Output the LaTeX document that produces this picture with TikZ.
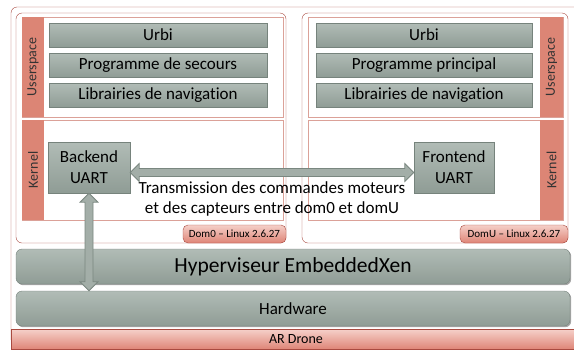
\documentclass[tikz,border=0pt]{standalone}
\usepackage{fontspec}
\setmainfont{Carlito}[Ligatures=NoCommon]
\usepackage{xcolor}
\usetikzlibrary{calc,shadows}

\definecolor{grisH}{HTML}{B1BCB6}
\definecolor{grisB}{HTML}{8F9C95}
\definecolor{grisBord}{HTML}{76837C}
\definecolor{rougeBande}{HTML}{DC8575}
\definecolor{rougePanneau}{HTML}{DBA198}
\definecolor{rougeCadre}{HTML}{A94A40}
\definecolor{ongletH}{HTML}{F5CFC8}
\definecolor{ongletB}{HTML}{DE8476}
\definecolor{flecheFond}{HTML}{A3AEA8}
\definecolor{flecheBord}{HTML}{7A8780}

\tikzset{
  cadre/.style={rectangle, draw=rougeCadre, fill=white, rounded corners=6pt},
  panneau/.style={rectangle, draw=rougePanneau, fill=white},
  bande/.style={rectangle, fill=rougeBande, inner sep=0pt,
                font=\fontsize{14}{16}\selectfont, text=black!80},
  grisbox/.style={rectangle, draw=grisBord, top color=grisH, bottom color=grisB,
                  inner sep=0pt, align=center, font=\fontsize{17}{21}\selectfont,
                  drop shadow={shadow xshift=1.2pt, shadow yshift=-1.2pt,
                               opacity=.35, fill=black}},
  couche/.style={grisbox, rounded corners=6pt},
  onglet/.style={rectangle, draw=rougeCadre, top color=ongletH, bottom color=ongletB,
                 rounded corners=5pt, inner sep=0pt, font=\fontsize{11}{13}\selectfont},
  fleche/.style={draw=flecheBord, fill=flecheFond, line width=0.8pt, line join=miter}
}

% grosse fleche a deux pointes entre deux points
\newcommand{\flechedouble}[2]{%
  \path (#1) coordinate (fdA) (#2) coordinate (fdB);
  \coordinate (fdA1) at ($(fdA)!9pt!(fdB)$);
  \coordinate (fdB1) at ($(fdB)!9pt!(fdA)$);
  \draw[fleche] (fdA) -- ($(fdA1)!9pt!90:(fdB)$) -- ($(fdA1)!4pt!90:(fdB)$)
    -- ($(fdB1)!4pt!-90:(fdA)$) -- ($(fdB1)!9pt!-90:(fdA)$) -- (fdB)
    -- ($(fdB1)!9pt!90:(fdA)$) -- ($(fdB1)!4pt!90:(fdA)$)
    -- ($(fdA1)!4pt!-90:(fdB)$) -- ($(fdA1)!9pt!-90:(fdB)$) -- cycle;}

\begin{document}
\begin{tikzpicture}[x=1pt, y=-1pt]
  \useasboundingbox (0,0) rectangle (574,349);
  \clip (0,0) rectangle (574,349);

  % cadre general
  \draw[rougeCadre, rounded corners=6pt] (11,7) rectangle (590,345);

  % domaines
  \node[cadre, minimum width=270pt, minimum height=230pt] (dom0) at (151,128) {};
  \node[cadre, minimum width=266pt, minimum height=230pt] (domU) at (435,128) {};

  % dom0 : userspace et kernel
  \node[panneau, minimum width=261pt, minimum height=100pt] (userA) at (152.5,67) {};
  \node[bande, minimum width=22pt, minimum height=100pt] (userAb) at (33,67) {};
  \node[bande, rotate=90] at (userAb) {Userspace};
  \node[panneau, minimum width=261pt, minimum height=100pt] (kernA) at (152.5,170) {};
  \node[bande, minimum width=22pt, minimum height=100pt] (kernAb) at (33,170) {};
  \node[bande, rotate=90] at (kernAb) {Kernel};

  % domU : userspace et kernel
  \node[panneau, minimum width=255pt, minimum height=100pt] (userB) at (435.5,67) {};
  \node[bande, minimum width=23pt, minimum height=100pt] (userBb) at (551.5,67) {};
  \node[bande, rotate=90] at (userBb) {Userspace};
  \node[panneau, minimum width=255pt, minimum height=100pt] (kernB) at (435.5,170) {};
  \node[bande, minimum width=23pt, minimum height=100pt] (kernBb) at (551.5,170) {};
  \node[bande, rotate=90] at (kernBb) {Kernel};

  % applications
  \node[grisbox, minimum width=218pt, minimum height=24pt] (urbiA) at (158,35) {Urbi};
  \node[grisbox, minimum width=218pt, minimum height=24pt] (secours) at (158,65) {Programme de secours};
  \node[grisbox, minimum width=218pt, minimum height=24pt] (navA) at (158,95) {Librairies de navigation};
  \node[grisbox, minimum width=216pt, minimum height=24pt] (urbiB) at (424,35) {Urbi};
  \node[grisbox, minimum width=216pt, minimum height=24pt] (principal) at (424,65) {Programme principal};
  \node[grisbox, minimum width=216pt, minimum height=24pt] (navB) at (424,95) {Librairies de navigation};

  % pilotes
  \node[grisbox, minimum width=82pt, minimum height=51pt] (backend) at (89,167.5) {Backend\\UART};
  \node[grisbox, minimum width=80pt, minimum height=51pt] (frontend) at (454,167.5) {Frontend\\UART};
  \node[align=center, font=\fontsize{17}{19.5}\selectfont] (transm) at (272,199)
    {Transmission des commandes moteurs\\et des capteurs entre dom0 et domU};

  % onglets
  \node[onglet, minimum width=103pt, minimum height=18pt] (tab0) at (234.5,234) {Dom0 -- Linux 2.6.27};
  \node[onglet, minimum width=108pt, minimum height=18pt] (tabU) at (514,234) {DomU -- Linux 2.6.27};

  % couches basses
  \node[couche, minimum width=554pt, minimum height=35pt, font=\fontsize{21.5}{24}\selectfont]
    (hyper) at (293,266.5) {Hyperviseur EmbeddedXen};
  \node[couche, minimum width=554pt, minimum height=35pt] (hardware) at (293,308.5) {Hardware};
  \node[rectangle, draw=rougeCadre, top color=ongletH, bottom color=ongletB, inner sep=0pt,
        minimum width=570pt, minimum height=20pt, font=\fontsize{14}{16}\selectfont]
    (drone) at (296,339.5) {AR Drone};

  % liaisons
  \flechedouble{[yshift=-5pt]backend.east}{[yshift=-5pt]frontend.west}
  \flechedouble{backend.south}{hardware.north -| backend.south}
\end{tikzpicture}
\end{document}
